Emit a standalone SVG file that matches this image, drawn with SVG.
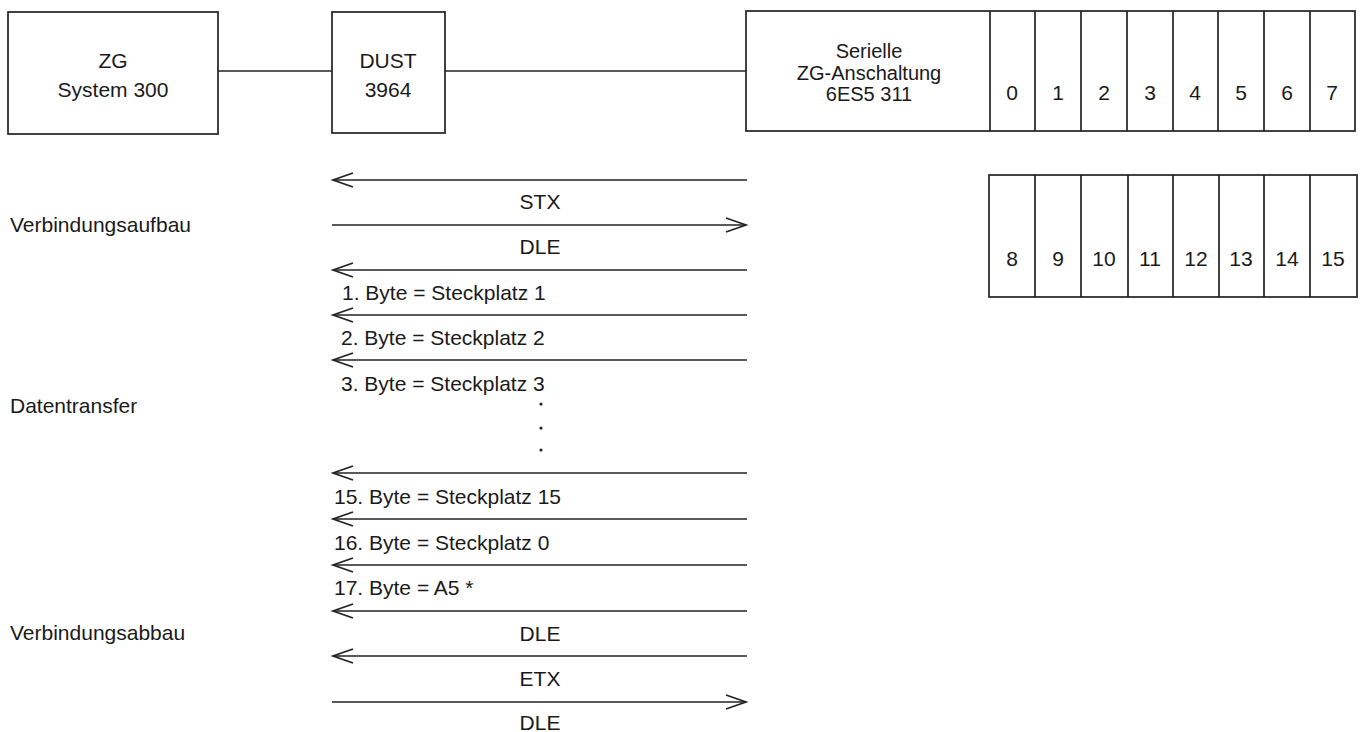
<svg xmlns="http://www.w3.org/2000/svg" width="1363" height="732" viewBox="0 0 1363 732">
<style>
.box{fill:#fff;stroke:#222;stroke-width:1.7}
.ln{stroke:#222;stroke-width:1.7;fill:none}
.ar{stroke:#222;stroke-width:1.7;fill:none;marker-end:url(#arr)}
text{font-family:"Liberation Sans",Arial,sans-serif;font-size:21px;fill:#1a1a1a}
.c{text-anchor:middle}
.s{font-size:20px}
.d{font-size:21px;text-anchor:middle}
</style>
<defs>
<marker id="arr" markerUnits="userSpaceOnUse" viewBox="-22 -9 24 18" markerWidth="24" markerHeight="18" refX="0" refY="0" orient="auto" overflow="visible">
<path d="M-20,-7 L0,0 L-20,7" fill="none" stroke="#222" stroke-width="1.7"/>
</marker>
</defs>
<rect width="1363" height="732" fill="#fff"/>
<g id="connectors">
<line class="ln" x1="218" y1="71" x2="332" y2="71"/>
<line class="ln" x1="445" y1="71" x2="746" y2="71"/>
<line class="ar" x1="747" y1="180" x2="333" y2="180"/>
<line class="ar" x1="332" y1="225" x2="746" y2="225"/>
<line class="ar" x1="747" y1="270" x2="333" y2="270"/>
<line class="ar" x1="747" y1="315" x2="333" y2="315"/>
<line class="ar" x1="747" y1="360" x2="333" y2="360"/>
<line class="ar" x1="747" y1="473" x2="333" y2="473"/>
<line class="ar" x1="747" y1="519" x2="333" y2="519"/>
<line class="ar" x1="747" y1="565" x2="333" y2="565"/>
<line class="ar" x1="747" y1="611" x2="333" y2="611"/>
<line class="ar" x1="747" y1="656" x2="333" y2="656"/>
<line class="ar" x1="332" y1="702" x2="746" y2="702"/>
</g>
<g id="zg">
<rect class="box" x="8" y="12" width="210" height="122"/>
<text class="c" x="113" y="68">ZG</text>
<text class="c" x="113" y="97">System 300</text>
</g>
<g id="dust">
<rect class="box" x="332" y="12" width="113" height="121"/>
<text class="c" x="388" y="68">DUST</text>
<text class="c" x="388" y="97">3964</text>
</g>
<g id="serielle">
<rect class="box" x="746" y="11" width="609" height="120"/>
<text class="c s" x="869" y="58">Serielle</text>
<text class="c s" x="869" y="79.5">ZG-Anschaltung</text>
<text class="c s" x="869" y="101">6ES5 311</text>
<path class="ln" d="M990,11V131M1035,11V131M1081,11V131M1127,11V131M1173,11V131M1218,11V131M1264,11V131M1310,11V131"/>
<text class="d" x="1012" y="100">0</text>
<text class="d" x="1058" y="100">1</text>
<text class="d" x="1104" y="100">2</text>
<text class="d" x="1150" y="100">3</text>
<text class="d" x="1195" y="100">4</text>
<text class="d" x="1241" y="100">5</text>
<text class="d" x="1287" y="100">6</text>
<text class="d" x="1332" y="100">7</text>
</g>
<g id="slots2">
<rect class="box" x="989" y="175" width="368" height="122"/>
<path class="ln" d="M1035,175V297M1081,175V297M1128,175V297M1173,175V297M1219,175V297M1264,175V297M1310,175V297"/>
<text class="d" x="1012" y="266">8</text>
<text class="d" x="1058" y="266">9</text>
<text class="d" x="1104" y="266">10</text>
<text class="d" x="1150" y="266">11</text>
<text class="d" x="1196" y="266">12</text>
<text class="d" x="1241" y="266">13</text>
<text class="d" x="1287" y="266">14</text>
<text class="d" x="1333" y="266">15</text>
</g>
<g id="phases">
<text x="10" y="232">Verbindungsaufbau</text>
<text x="10" y="413">Datentransfer</text>
<text x="10" y="640">Verbindungsabbau</text>
</g>
<g id="messages">
<text class="c" x="540" y="209">STX</text>
<text class="c" x="540" y="254">DLE</text>
<text x="342" y="300">1. Byte = Steckplatz 1</text>
<text x="341" y="345">2. Byte = Steckplatz 2</text>
<text x="341" y="391">3. Byte = Steckplatz 3</text>
<circle cx="541" cy="404" r="1.6" fill="#222"/>
<circle cx="541" cy="428" r="1.6" fill="#222"/>
<circle cx="541" cy="450" r="1.6" fill="#222"/>
<text x="334" y="504">15. Byte = Steckplatz  15</text>
<text x="334" y="550">16. Byte = Steckplatz 0</text>
<text x="334" y="595">17. Byte = A5 *</text>
<text class="c" x="540" y="641">DLE</text>
<text class="c" x="540" y="686">ETX</text>
<text class="c" x="540" y="730">DLE</text>
</g>
</svg>
